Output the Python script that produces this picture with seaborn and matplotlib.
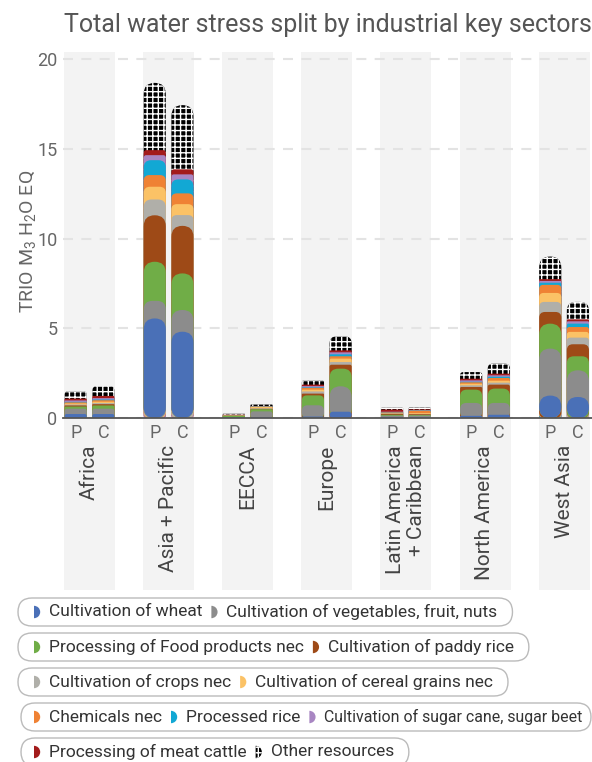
import numpy as np
import pandas as pd
import seaborn as sns
import matplotlib
matplotlib.use("Agg")
import matplotlib.pyplot as plt
from matplotlib.patches import FancyBboxPatch, Rectangle, Wedge
from matplotlib.transforms import Affine2D, blended_transform_factory

# ---------------- data ----------------
title = "Total water stress split by industrial key sectors"
y_label = "TRIO M$_3$ H$_2$O EQ"
regions = ["Africa", "Asia + Pacific", "EECCA", "Europe",
           "Latin America\n+ Caribbean", "North America", "West Asia"]
sides = ["P", "C"]
sectors = ["Cultivation of wheat", "Cultivation of vegetables, fruit, nuts",
           "Processing of Food products nec", "Cultivation of paddy rice",
           "Cultivation of crops nec", "Cultivation of cereal grains nec",
           "Chemicals nec", "Processed rice", "Cultivation of sugar cane, sugar beet",
           "Processing of meat cattle", "Other resources"]
colors = ["#4a70b7", "#8c8c8c", "#70ad47", "#9e4a17", "#b0afa9", "#fbc266",
          "#ef8234", "#12a8d4", "#a886c2", "#a31b1b", "#000000"]
y_ticks = [0, 5, 10, 15, 20]

# values ordered: Africa P, Africa C, Asia P, Asia C, EECCA P, EECCA C, Europe P, Europe C,
# LatAm P, LatAm C, N.America P, N.America C, W.Asia P, W.Asia C
wheat = [0.22, 0.22, 5.55, 4.81, 0.01, 0.04, 0.08, 0.35, 0.05, 0.05, 0.12, 0.18, 1.25, 1.17]
veg = [0.30, 0.30, 0.98, 1.21, 0.03, 0.33, 0.63, 1.42, 0.08, 0.08, 0.72, 0.66, 2.62, 1.49]
food = [0.12, 0.18, 2.18, 2.04, 0.08, 0.12, 0.55, 0.98, 0.05, 0.04, 0.74, 0.80, 1.39, 0.78]
paddy = [0.06, 0.07, 2.59, 2.65, 0.01, 0.02, 0.10, 0.22, 0.05, 0.04, 0.15, 0.22, 0.65, 0.67]
crops = [0.05, 0.06, 0.88, 0.60, 0.01, 0.03, 0.12, 0.15, 0.02, 0.02, 0.09, 0.11, 0.56, 0.37]
cereal = [0.06, 0.08, 0.71, 0.61, 0.01, 0.07, 0.10, 0.19, 0.02, 0.04, 0.09, 0.11, 0.50, 0.32]
chem = [0.06, 0.08, 0.65, 0.60, 0.01, 0.03, 0.10, 0.13, 0.04, 0.14, 0.08, 0.15, 0.45, 0.27]
rice = [0.03, 0.04, 0.83, 0.78, 0.00, 0.01, 0.03, 0.11, 0.01, 0.01, 0.03, 0.07, 0.12, 0.19]
sugar = [0.08, 0.08, 0.28, 0.28, 0.01, 0.01, 0.07, 0.11, 0.03, 0.02, 0.08, 0.08, 0.10, 0.13]
meat = [0.10, 0.12, 0.28, 0.28, 0.01, 0.01, 0.08, 0.11, 0.12, 0.04, 0.09, 0.09, 0.10, 0.11]
other = [0.41, 0.55, 3.75, 3.58, 0.06, 0.08, 0.24, 0.78, 0.10, 0.10, 0.37, 0.56, 1.26, 0.97]

series = [wheat, veg, food, paddy, crops, cereal, chem, rice, sugar, meat, other]

rows = []
for s, vals in zip(sectors, series):
    for k, v in enumerate(vals):
        rows.append(dict(region=regions[k // 2], side=sides[k % 2], sector=s, value=v))
df = pd.DataFrame(rows)
df["sector"] = pd.Categorical(df["sector"], categories=sectors, ordered=True)
df = df.sort_values(["region", "side", "sector"])
df["cum"] = df.groupby(["region", "side"], observed=True)["value"].cumsum()

# ---------------- figure ----------------
W, H = 592, 762
sns.set_theme(style="white")
plt.rcParams["font.family"] = ["Roboto", "DejaVu Sans"]
plt.rcParams["mathtext.default"] = "regular"
plt.rcParams["hatch.linewidth"] = 1.0

fig = plt.figure(figsize=(W / 100, H / 100), dpi=100, facecolor="white")
ax_l, ax_r, ax_t, ax_b = 63, 592, 52, 418
ax = fig.add_axes([ax_l / W, 1 - ax_b / H, (ax_r - ax_l) / W, (ax_b - ax_t) / H])
ax.set_facecolor("white")

xlim = (-0.335, 6.353)
ylim = (0, 20.4)
xpp = (xlim[1] - xlim[0]) / (ax_r - ax_l)
ypp = (ylim[1] - ylim[0]) / (ax_b - ax_t)

bt = blended_transform_factory(ax.transData, ax.transAxes)
band_bottom = (ax_b - 590) / (ax_b - ax_t)
for i in range(len(regions)):
    ax.add_patch(Rectangle((i - 0.322, band_bottom), 0.645, 1 - band_bottom,
                           transform=bt, facecolor="#f3f3f3", edgecolor="none",
                           zorder=0, clip_on=False))

lookup = {(r, s, sec): v for r, s, sec, v in zip(df.region, df.side, df.sector, df.value)}

for si in reversed(range(len(sectors))):
    sec = sectors[si]
    col = colors[si]
    sub = df[df.sector == sec]
    before = len(ax.patches)
    sns.barplot(data=sub, x="region", y="cum", hue="side", order=regions,
                hue_order=sides, palette={"P": col, "C": col}, width=0.7, gap=0.2,
                saturation=1, errorbar=None, legend=False, ax=ax)
    new = list(ax.patches)[before:]
    for p in new:
        x0, w, h = p.get_x(), p.get_width(), p.get_height()
        xc = x0 + w / 2
        ri = int(round(xc))
        side = "P" if xc < ri else "C"
        seg = lookup[(regions[ri], side, sec)]
        r_px = max(0.0, min(w / xpp / 2, seg / ypp / 2))
        kw = dict(facecolor=col, edgecolor="none", linewidth=0)
        if sec == "Other resources":
            kw = dict(facecolor="black", edgecolor="white", linewidth=0, hatch="+++")
        fb = FancyBboxPatch((x0, 0), w, h,
                            boxstyle=f"round,pad=0,rounding_size={r_px * xpp:.6f}",
                            mutation_aspect=ypp / xpp, zorder=2, **kw)
        p.remove()
        ax.add_patch(fb)

ax.set_xlim(*xlim)
ax.set_ylim(*ylim)

# grid, spines
ax.set_yticks(y_ticks)
ax.grid(axis="y", color="#e3e3e3", linestyle=(0, (4.8, 4)), linewidth=1.5, zorder=0.5)
ax.grid(axis="x", visible=False)
ax.set_axisbelow(True)
for s in ["left", "top", "right"]:
    ax.spines[s].set_visible(False)
ax.spines["bottom"].set_color("#555555")
ax.spines["bottom"].set_linewidth(1.3)
ax.spines["bottom"].set_zorder(3)

ax.tick_params(axis="y", length=0, pad=4, labelsize=13, labelcolor="#666666")
tick_pos = [i + d for i in range(len(regions)) for d in (-0.175, 0.175)]
ax.set_xticks(tick_pos)
ax.set_xticklabels(sides * len(regions))
ax.tick_params(axis="x", length=0, pad=4, labelsize=13, labelcolor="#666666")
ax.set_xlabel("")
ax.set_ylabel(y_label, fontsize=14, color="#666666")
ax.yaxis.set_label_coords(-0.047, 0.482)

lab_y = (ax_b - 445) / (ax_b - ax_t)
for i, name in enumerate(regions):
    ax.text(i, lab_y, name, transform=bt, rotation=90, ha="center", va="top",
            multialignment="right", fontsize=15, color="#444444", clip_on=False,
            linespacing=1.1)

fig.text(327.5 / W, 1 - 25 / H, title, ha="center", va="center", fontsize=18,
         color="#555555")

# ---------------- legend ----------------
pix = Affine2D().scale(1 / 100.0) + fig.dpi_scale_trans
renderer = fig.canvas.get_renderer()
leg_rows = [[0, 1], [2, 3], [4, 5], [6, 7, 8], [9, 10]]
row_left = [18, 18, 18, 21, 21]
row_y = [612, 647, 682, 717, 752]
for k, row in enumerate(leg_rows):
    yc = row_y[k]
    x = 34
    for j, si in enumerate(row):
        if j > 0:
            x += 9
        if sectors[si] == "Other resources":
            wg = Wedge((x, H - yc), 6.2, -90, 90, transform=pix, facecolor="black",
                       edgecolor="white", linewidth=0, hatch="+++", zorder=3)
        else:
            wg = Wedge((x, H - yc), 6.2, -90, 90, transform=pix, facecolor=colors[si],
                       edgecolor="none", zorder=3)
        fig.add_artist(wg)
        fs = 11.4 if si == 8 else 12.5
        t = fig.text(x + 15, H - yc, sectors[si], transform=pix, ha="left", va="center",
                     fontsize=fs, color="#333333", zorder=3)
        x = x + 15 + t.get_window_extent(renderer).width
    right = min(x + 15, 591)
    box = FancyBboxPatch((row_left[k], H - yc - 14), right - row_left[k], 28,
                         boxstyle="round,pad=0,rounding_size=14", transform=pix,
                         facecolor="white", edgecolor="#bbbbbb", linewidth=1, zorder=2)
    fig.add_artist(box)

fig.savefig("out.png", dpi=100, facecolor="white")
